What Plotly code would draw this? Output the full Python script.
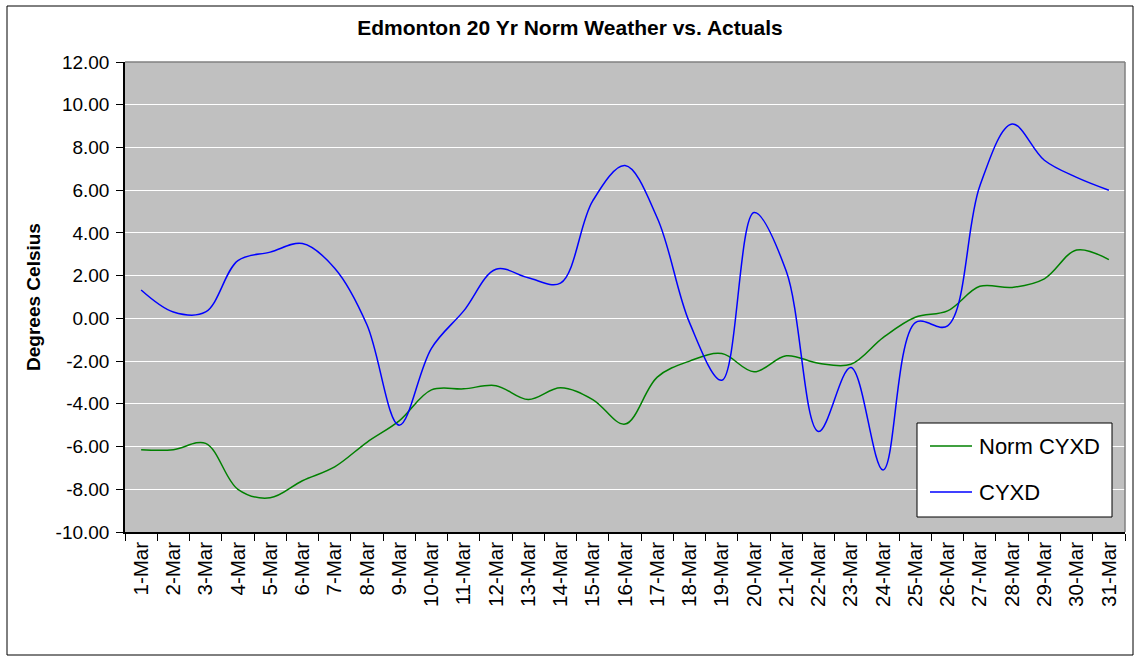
import plotly.graph_objects as go

days = [f"{d}-Mar" for d in range(1, 32)]

norm_cyxd = [-6.15, -6.15, -5.85, -8.0, -8.4, -7.6, -6.95, -5.8, -4.8, -3.35,
             -3.3, -3.15, -3.8, -3.25, -3.8, -4.95, -2.75, -2.0, -1.65, -2.5,
             -1.75, -2.1, -2.15, -0.9, 0.05, 0.35, 1.5, 1.45, 1.85, 3.2, 2.75]

cyxd = [1.33, 0.3, 0.3, 2.7, 3.1, 3.5, 2.35, -0.3, -5.0, -1.4,
        0.35, 2.3, 1.9, 1.65, 5.5, 7.15, 4.7, -0.2, -2.9, 4.95,
        2.2, -5.3, -2.3, -7.1, -0.2, -0.35, 6.2, 9.1, 7.4, 6.6, 6.0]

y_ticks = [-10, -8, -6, -4, -2, 0, 2, 4, 6, 8, 10, 12]
y_tick_text = [f"{v:.2f}" for v in y_ticks]

W, H = 1140, 661
L, R, T, B = 125, 15, 62, 129
pw, ph = W - L - R, H - T - B

def px(x):
    return (x - L) / pw

def py(y):
    return (H - B - y) / ph

fig = go.Figure()
fig.add_trace(go.Scatter(x=days, y=norm_cyxd, name="Norm CYXD", mode="lines",
                         line=dict(color="#008000", width=1.5, shape="spline", smoothing=1)))
fig.add_trace(go.Scatter(x=days, y=cyxd, name="CYXD", mode="lines",
                         line=dict(color="#0000FF", width=1.5, shape="spline", smoothing=1)))

fig.update_layout(
    width=W, height=H,
    margin=dict(l=L, r=R, t=T, b=B),
    paper_bgcolor="white",
    plot_bgcolor="#C0C0C0",
    font=dict(family="Liberation Sans, Arial, sans-serif", color="black"),
    title=dict(text="<b>Edmonton 20 Yr Norm Weather vs. Actuals</b>",
               x=0.5, xref="container", xanchor="center",
               y=1 - 28 / H, yref="container", yanchor="middle",
               font=dict(size=21, color="black")),
    xaxis=dict(type="category", range=[-0.5, 30.5], tickson="boundaries",
               ticks="outside", ticklen=7, tickcolor="black", tickwidth=1,
               showline=True, linecolor="black", linewidth=1.5,
               showgrid=False, tickangle=-90, tickfont=dict(size=20.5),
               zeroline=False),
    yaxis=dict(range=[-10, 12], tickvals=y_ticks, ticktext=y_tick_text,
               ticks="outside", ticklen=7, tickcolor="black", tickwidth=1,
               showline=True, linecolor="black", linewidth=1.5,
               showgrid=True, gridcolor="#FFFFFF", gridwidth=1,
               zeroline=False, tickfont=dict(size=19), ticklabelstandoff=3,
               title=dict(text="<b>Degrees Celsius</b>", font=dict(size=19), standoff=10)),
    showlegend=False,
)

# grey frame on top / right of plot area
fig.add_shape(type="line", xref="paper", yref="paper", x0=0, x1=1, y0=1, y1=1,
              line=dict(color="#808080", width=1.5))
fig.add_shape(type="line", xref="paper", yref="paper", x0=1, x1=1, y0=0, y1=1,
              line=dict(color="#808080", width=1.5))
# chart border
fig.add_shape(type="rect", xref="paper", yref="paper",
              x0=px(7), x1=px(1133), y0=py(655), y1=py(6),
              line=dict(color="black", width=1), fillcolor="rgba(0,0,0,0)", layer="below")

# legend box
fig.add_shape(type="rect", xref="paper", yref="paper",
              x0=px(917), x1=px(1112), y0=py(517), y1=py(423),
              line=dict(color="black", width=1), fillcolor="white", layer="above")
legend_items = [("Norm CYXD", "#008000", 446), ("CYXD", "#0000FF", 492)]
for name, color, yy in legend_items:
    fig.add_shape(type="line", xref="paper", yref="paper",
                  x0=px(930), x1=px(972), y0=py(yy), y1=py(yy),
                  line=dict(color=color, width=1.5), layer="above")
    fig.add_annotation(text=name, xref="paper", yref="paper", x=px(977), y=py(yy),
                       xanchor="left", yanchor="middle", showarrow=False,
                       font=dict(size=22, color="black"))

fig.write_html("out.html", config={"displayModeBar": False},
               post_script="document.body.style.margin='0';")
